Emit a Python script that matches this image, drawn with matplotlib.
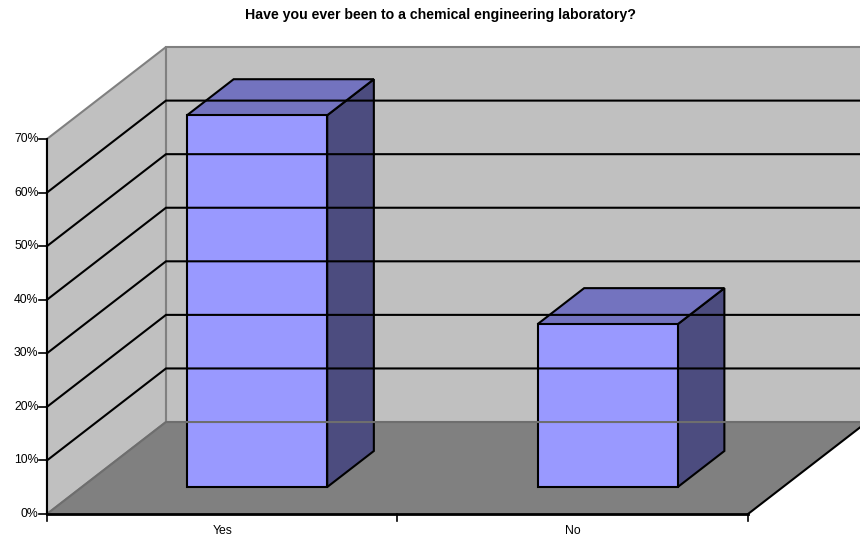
import matplotlib.pyplot as plt
from matplotlib.patches import Polygon

categories = ['Yes', 'No']
values = [69.4, 30.4]          # percent of respondents
y_ticks = [0, 10, 20, 30, 40, 50, 60, 70]
y_labels = ['0%', '10%', '20%', '30%', '40%', '50%', '60%', '70%']

# oblique projection of the depth axis (x in category units, y in percent)
DX = 0.3395
DY = 17.17
D0, D1 = 0.293, 0.685      # bar depth span as fraction of the full depth
HALF_W = 0.2
YMAX = 70

WALL = '#C0C0C0'
FLOOR = '#808080'
FRONT = '#9999FF'
TOP = '#7373BF'
SIDE = '#4C4C7F'

plt.rcParams['font.family'] = ['Liberation Sans', 'DejaVu Sans']

fig = plt.figure(figsize=(8.6, 5.4), dpi=100)
ax = fig.add_axes([0, 0, 1, 1])
ax.set_xlim(-0.634, 1.8195)
ax.set_ylim(-4.853, 95.95)
ax.axis('off')

x0, x1 = -0.5, len(categories) - 0.5

# back wall
ax.add_patch(Polygon([(x0 + DX, DY), (x1 + DX + 1, DY), (x1 + DX + 1, YMAX + DY),
                      (x0 + DX, YMAX + DY)], closed=True, fc=WALL, ec=FLOOR, lw=1.5))
# side wall
ax.add_patch(Polygon([(x0, 0), (x0, YMAX), (x0 + DX, YMAX + DY), (x0 + DX, DY)],
                     closed=True, fc=WALL, ec=FLOOR, lw=1.5))

# gridlines on both walls
for t in y_ticks[1:-1]:
    ax.plot([x0, x0 + DX, x1 + DX + 1], [t, t + DY, t + DY], color='black', lw=1.5,
            solid_joinstyle='miter')

# floor
ax.add_patch(Polygon([(x0, 0), (x1, 0), (x1 + DX, DY), (x0 + DX, DY)],
                     closed=True, fc=FLOOR, ec='none'))
ax.plot([x0, x0 + DX, x1 + DX + 1], [0, DY, DY], color='#6E6E6E', lw=1.5)
ax.plot([x1, x1 + DX], [0, DY], color='black', lw=1.5)

# 3D bars
for i, v in enumerate(values):
    a, b = i - HALF_W, i + HALF_W
    fz, bz = D0, D1
    front = [(a + fz * DX, fz * DY), (b + fz * DX, fz * DY),
             (b + fz * DX, v + fz * DY), (a + fz * DX, v + fz * DY)]
    top = [(a + fz * DX, v + fz * DY), (b + fz * DX, v + fz * DY),
           (b + bz * DX, v + bz * DY), (a + bz * DX, v + bz * DY)]
    side = [(b + fz * DX, fz * DY), (b + bz * DX, bz * DY),
            (b + bz * DX, v + bz * DY), (b + fz * DX, v + fz * DY)]
    for pts, c in ((side, SIDE), (top, TOP), (front, FRONT)):
        ax.add_patch(Polygon(pts, closed=True, fc=c, ec='black', lw=1.5,
                             joinstyle='miter'))

# value axis
ax.plot([x0, x0], [0, YMAX], color='black', lw=1.5)
for t, lab in zip(y_ticks, y_labels):
    ax.plot([x0 - 0.023, x0], [t, t], color='black', lw=1.2)
    ax.text(x0 - 0.024, t, lab, ha='right', va='center', fontsize=8.8)

# category axis
ax.plot([x0, x1], [0, 0], color='black', lw=2)
for k in range(len(categories) + 1):
    ax.plot([x0 + k, x0 + k], [0, -1.3], color='black', lw=1.2)
for i, c in enumerate(categories):
    ax.text(i, -3.2, c, ha='center', va='center', fontsize=8.8)

fig.text(0.512, 0.972, 'Have you ever been to a chemical engineering laboratory?',
         ha='center', va='center', fontsize=10.2, fontweight='bold')

fig.savefig('out.png', dpi=100)
